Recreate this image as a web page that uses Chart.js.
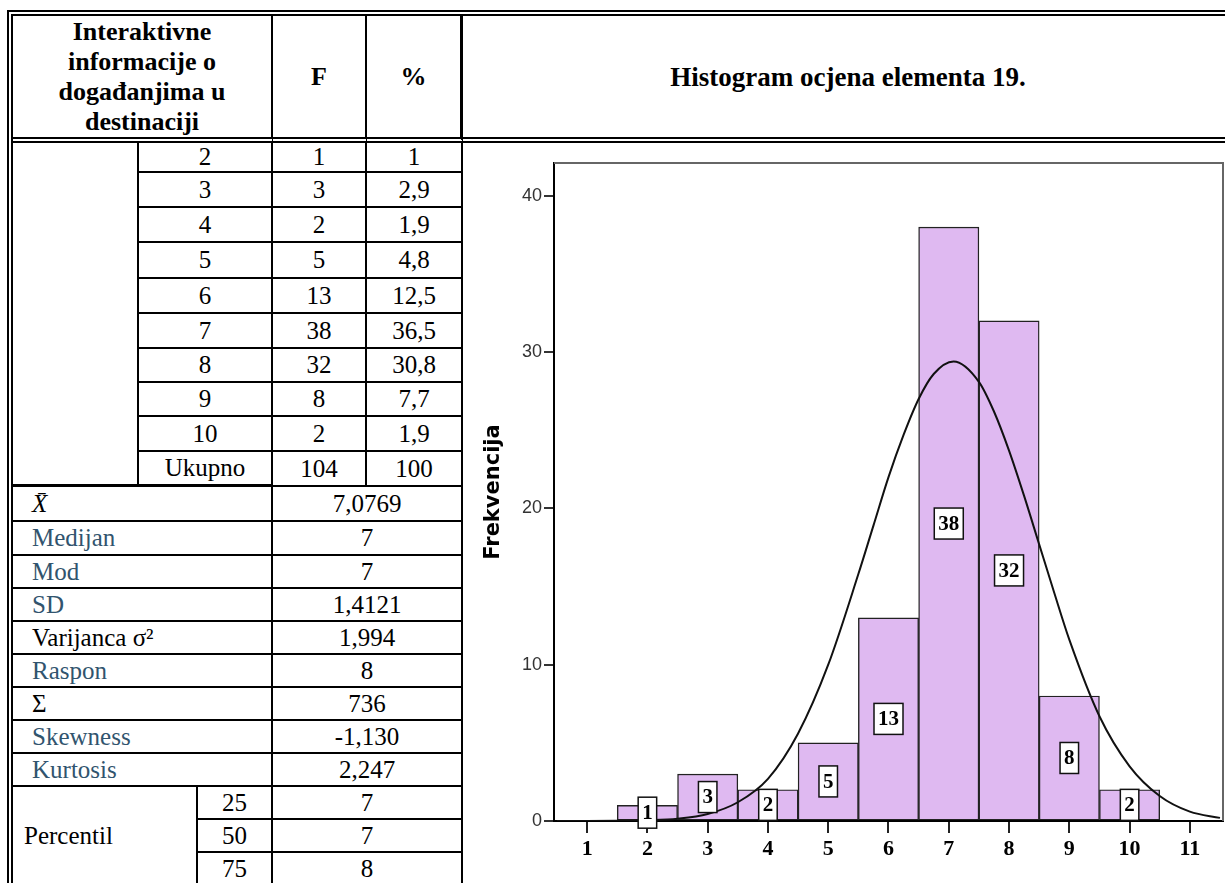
<!DOCTYPE html>
<html>
<head>
<meta charset="utf-8">
<script src="https://cdn.jsdelivr.net/npm/chart.js@4.4.1/dist/chart.umd.min.js"></script>
<style>
body { margin:0; background:#fff; width:1225px; height:883px; overflow:hidden; position:relative; }
table { position:absolute; left:7px; top:10px; width:1226px; table-layout:fixed;
  border-collapse:separate; border-spacing:0;
  border-top:6px double #000; border-left:6px double #000;
  font-family:"Liberation Serif","Times New Roman",serif; font-size:25px; color:#000; }
td { box-sizing:border-box; padding:0; border-right:2px solid #000; border-bottom:2px solid #000;
  text-align:center; vertical-align:middle; line-height:28px; white-space:nowrap; overflow:hidden; }
.hd { font-weight:bold; font-size:26px; line-height:30px; border-bottom:6px double #000; }
.hd.last { border-right:3px solid #000; }
.title { font-weight:bold; font-size:27px; border-right:none; border-bottom:6px double #000; }
.chart { border:none; position:relative; vertical-align:top; }
#wrap { position:absolute; left:0; top:0; width:762px; height:740px; }
.thick { border-bottom:3px solid #000; }
.lbl { text-align:left; padding-left:19px; }
.blue { color:#31546e; }
.pct { text-align:left; padding-left:11px; }
</style>
</head>
<body>
<table>
<colgroup>
<col style="width:126px"><col style="width:59px"><col style="width:75px">
<col style="width:94px"><col style="width:96px"><col style="width:770px">
</colgroup>
<tr style="height:127px">
  <td colspan="3" class="hd">Interaktivne<br>informacije o<br>događanjima u<br>destinaciji</td>
  <td class="hd">F</td>
  <td class="hd last">%</td>
  <td class="title">Histogram ocjena elementa 19.</td>
</tr>
<tr style="height:30px">
  <td rowspan="10" class="thick"></td><td colspan="2">2</td><td>1</td><td>1</td>
  <td rowspan="22" class="chart"><div id="wrap"><canvas id="Chart" width="762" height="740"></canvas></div></td>
</tr>
<tr style="height:35px"><td colspan="2">3</td><td>3</td><td>2,9</td></tr>
<tr style="height:35px"><td colspan="2">4</td><td>2</td><td>1,9</td></tr>
<tr style="height:36px"><td colspan="2">5</td><td>5</td><td>4,8</td></tr>
<tr style="height:35px"><td colspan="2">6</td><td>13</td><td>12,5</td></tr>
<tr style="height:35px"><td colspan="2">7</td><td>38</td><td>36,5</td></tr>
<tr style="height:34px"><td colspan="2">8</td><td>32</td><td>30,8</td></tr>
<tr style="height:34px"><td colspan="2">9</td><td>8</td><td>7,7</td></tr>
<tr style="height:35px"><td colspan="2">10</td><td>2</td><td>1,9</td></tr>
<tr style="height:35px"><td colspan="2" class="thick">Ukupno</td><td>104</td><td>100</td></tr>
<tr style="height:35px"><td colspan="3" class="lbl"><i>X&#772;</i></td><td colspan="2">7,0769</td></tr>
<tr style="height:34px"><td colspan="3" class="lbl blue">Medijan</td><td colspan="2">7</td></tr>
<tr style="height:33px"><td colspan="3" class="lbl blue">Mod</td><td colspan="2">7</td></tr>
<tr style="height:33px"><td colspan="3" class="lbl blue">SD</td><td colspan="2">1,4121</td></tr>
<tr style="height:33px"><td colspan="3" class="lbl">Varijanca σ²</td><td colspan="2">1,994</td></tr>
<tr style="height:33px"><td colspan="3" class="lbl blue">Raspon</td><td colspan="2">8</td></tr>
<tr style="height:33px"><td colspan="3" class="lbl">Σ</td><td colspan="2">736</td></tr>
<tr style="height:33px"><td colspan="3" class="lbl blue">Skewness</td><td colspan="2">-1,130</td></tr>
<tr style="height:33px"><td colspan="3" class="lbl blue">Kurtosis</td><td colspan="2">2,247</td></tr>
<tr style="height:33px"><td colspan="2" rowspan="3" class="pct">Percentil</td><td>25</td><td colspan="2">7</td></tr>
<tr style="height:33px"><td>50</td><td colspan="2">7</td></tr>
<tr style="height:33px"><td>75</td><td colspan="2">8</td></tr>
</table>

<script>
// histogram data
const grades = [2, 3, 4, 5, 6, 7, 8, 9, 10];
const freq = [1, 3, 2, 5, 13, 38, 32, 8, 2];

// normal curve
const curveX = [0.5, 1, 1.5, 2, 2.5, 3, 3.5, 4, 4.5, 5, 5.5, 5.75, 6, 6.25, 6.5, 6.75, 7.08, 7.5, 7.75, 8, 8.25, 8.5, 8.75, 9, 9.5, 10, 10.5, 11, 11.5];
const curveY = [0, 0, 0.01, 0.05, 0.15, 0.45, 1.2, 2.7, 5.6, 10, 15.8, 18.9, 22, 24.7, 27, 28.6, 29.4, 28.1, 26.2, 23.7, 20.8, 17.7, 14.6, 11.6, 6.7, 3.5, 1.6, 0.6, 0.2];

const xTicks = [1, 2, 3, 4, 5, 6, 7, 8, 9, 10, 11];
const yTicks = [0, 10, 20, 30, 40];

const canvas = document.getElementById('Chart');
const ctx = canvas.getContext('2d');

// grey frame round the plot
const frame = {
  id: 'frame',
  beforeDatasetsDraw(chart) {
    const a = chart.chartArea, c = chart.ctx;
    c.save();
    c.strokeStyle = '#666';
    c.lineWidth = 2;
    c.beginPath();
    c.moveTo(a.left, a.top);
    c.lineTo(a.right, a.top);
    c.lineTo(a.right, a.bottom);
    c.stroke();
    c.restore();
  }
};

// white boxed count in the middle of each bar
const boxLabels = {
  id: 'boxLabels',
  afterDatasetsDraw(chart) {
    const c = chart.ctx;
    const meta = chart.getDatasetMeta(0);
    c.save();
    c.font = 'bold 21px "Liberation Serif"';
    c.textAlign = 'center';
    c.textBaseline = 'middle';
    meta.data.forEach((bar, i) => {
      const txt = String(freq[i]);
      const y = (bar.y + bar.base) / 2;
      const w = c.measureText(txt).width + 8;
      const h = 31;
      c.fillStyle = '#fff';
      c.fillRect(bar.x - w / 2, y - h / 2, w, h);
      c.strokeStyle = '#111';
      c.lineWidth = 1.5;
      c.strokeRect(bar.x - w / 2, y - h / 2, w, h);
      c.fillStyle = '#000';
      c.fillText(txt, bar.x, y + 1);
    });
    c.restore();
  }
};

new Chart(ctx, {
  type: 'bar',
  data: {
    datasets: [{
      type: 'bar',
      data: grades.map((g, i) => ({ x: g, y: freq[i] })),
      backgroundColor: '#dfb9f1',
      borderColor: '#222',
      borderWidth: 1.4,
      borderSkipped: false,
      barPercentage: 1,
      categoryPercentage: 1,
      order: 1
    }, {
      type: 'line',
      data: curveX.map((x, i) => ({ x: x, y: curveY[i] })),
      borderColor: '#111',
      borderWidth: 2,
      pointRadius: 0,
      fill: false,
      cubicInterpolationMode: 'monotone',
      order: 0
    }]
  },
  options: {
    responsive: false,
    animation: false,
    layout: { padding: { top: 20, right: 2, left: 0, bottom: 0 } },
    plugins: { legend: { display: false }, tooltip: { enabled: false } },
    scales: {
      x: {
        type: 'linear',
        min: 0.45,
        max: 11.55,
        offset: false,
        afterBuildTicks: s => { s.ticks = xTicks.map(v => ({ value: v })); },
        afterFit: s => { s.height = 62; },
        grid: { display: true, offset: false, drawOnChartArea: false, drawTicks: true, tickLength: 12, color: '#222', lineWidth: 2 },
        border: { display: true, color: '#000', width: 2 },
        ticks: { padding: 3, color: '#000', font: { family: 'Liberation Serif', size: 22, weight: 'bold' }, maxRotation: 0 }
      },
      y: {
        min: 0,
        max: 42.1,
        afterBuildTicks: s => { s.ticks = yTicks.map(v => ({ value: v })); },
        afterFit: s => { s.width = 91; },
        grid: { display: true, drawOnChartArea: false, drawTicks: true, tickLength: 10, color: '#333', lineWidth: 2 },
        border: { display: true, color: '#000', width: 2 },
        ticks: { padding: 2, color: '#333', font: { family: 'Liberation Sans', size: 18 } },
        title: {
          display: true,
          text: 'Frekvencija',
          color: '#000',
          padding: { top: 18, bottom: 0 },
          font: { family: 'DejaVu Sans', size: 21, weight: 'bold' }
        }
      }
    }
  },
  plugins: [frame, boxLabels]
});
</script>
</body>
</html>
